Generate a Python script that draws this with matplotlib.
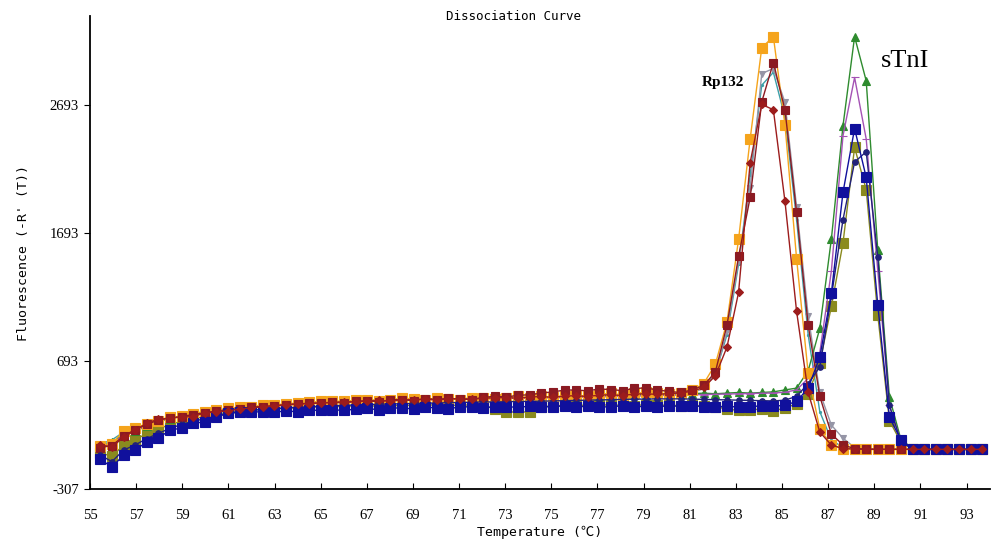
import matplotlib

matplotlib.use("Agg")

import matplotlib.pyplot as plt
import numpy as np

plt.rcParams["axes.unicode_minus"] = False

# temperature readings (one per melt step)
TEMPERATURES = np.linspace(55.45, 93.68, 77)

Y_TICKS = [-307, 693, 1693, 2693]
X_TICKS = list(range(55, 94, 2))

# --- Rp132 wells -------------------------------------------------------
RP_ORANGE = [
    30, 50, 150, 175, 205, 225, 255, 265, 285, 300,
    310, 325, 335, 340, 350, 355, 360, 370, 375, 380,
    385, 380, 390, 395, 385, 395, 405, 400, 395, 405,
    400, 395, 410, 405, 400, 410, 420, 405, 420, 415,
    425, 430, 420, 435, 445, 430, 445, 450, 445, 440,
    445, 468, 520, 670, 1000, 1645, 2431, 3143, 3229, 2541,
    1496, 600, 167, 40, 12, 8, 5, 5, 5, 5,
    5, 5, 5, 5, 5, 5, 5,
]
RP_MAROON = [
    20, 35, 110, 160, 200, 235, 250, 262, 278, 292,
    305, 315, 322, 335, 340, 348, 355, 362, 365, 368,
    372, 370, 382, 385, 378, 392, 395, 385, 402, 395,
    405, 398, 395, 412, 420, 415, 428, 432, 445, 455,
    468, 470, 462, 478, 472, 465, 482, 485, 470, 458,
    450, 470, 505, 610, 975, 1512, 1973, 2720, 3027, 2658,
    1856, 975, 420, 125, 40, 12, 8, 6, 6, 6,
    6, 6, 6, 6, 6, 6, 6,
]
RP_RED = [
    40, 25, 100, 155, 210, 242, 250, 258, 262, 290,
    300, 305, 320, 330, 338, 345, 352, 360, 362, 370,
    372, 378, 376, 385, 388, 382, 392, 395, 398, 392,
    400, 402, 398, 405, 408, 410, 405, 415, 418, 412,
    422, 425, 418, 430, 432, 426, 438, 440, 435, 442,
    445, 460, 490, 580, 804, 1231, 2246, 2700, 2658, 1942,
    1084, 450, 141, 39, 12, 8, 6, 6, 6, 6,
    6, 6, 6, 6, 6, 6, 6,
]
RP_GRAY = [
    35, 55, 120, 165, 200, 230, 248, 262, 280, 295,
    305, 318, 325, 335, 342, 350, 356, 362, 366, 372,
    376, 378, 382, 386, 382, 390, 394, 392, 398, 400,
    398, 400, 404, 402, 406, 408, 410, 408, 414, 416,
    418, 420, 422, 426, 428, 426, 432, 436, 434, 438,
    440, 450, 480, 590, 930, 1480, 2050, 2941, 2980, 2715,
    1900, 1050, 450, 195, 93, 20, 8, 6, 6, 6,
    6, 6, 6, 6, 6, 6, 6,
]
RP_TEAL = [
    45, 80, 140, 170, 205, 232, 250, 265, 280, 296,
    306, 316, 326, 334, 342, 348, 354, 360, 366, 370,
    374, 378, 380, 384, 386, 388, 392, 394, 396, 398,
    400, 402, 402, 404, 406, 408, 408, 410, 412, 414,
    416, 418, 420, 422, 424, 426, 428, 430, 432, 434,
    436, 455, 485, 600, 900, 1450, 2150, 2850, 2950, 2600,
    1800, 900, 300, 80, 20, 8, 6, 6, 6, 6,
    6, 6, 6, 6, 6, 6, 6,
]

# --- sTnI wells --------------------------------------------------------
ST_GREEN = [
    30, 60, 120, 150, 185, 225, 245, 268, 285, 300,
    312, 320, 330, 338, 344, 352, 356, 362, 368, 372,
    376, 380, 378, 386, 390, 385, 392, 396, 394, 400,
    398, 402, 400, 405, 408, 402, 410, 412, 408, 415,
    418, 420, 424, 426, 428, 430, 432, 434, 436, 438,
    440, 440, 445, 440, 445, 450, 445, 450, 455, 470,
    484, 620, 950, 1650, 2533, 3229, 2884, 1559, 413, 80,
    15, 8, 6, 6, 6, 6, 6,
]
ST_PURPLE = [
    25, 50, 115, 150, 190, 225, 248, 262, 280, 296,
    308, 318, 326, 334, 340, 348, 352, 358, 364, 368,
    372, 374, 378, 380, 384, 386, 388, 390, 392, 394,
    396, 398, 400, 400, 402, 404, 404, 406, 408, 408,
    410, 412, 414, 416, 418, 420, 422, 424, 426, 428,
    430, 432, 434, 436, 438, 440, 442, 444, 446, 452,
    470, 560, 760, 1400, 2455, 2910, 2430, 1400, 350, 60,
    12, 6, 6, 6, 6, 6, 6,
]
ST_OLIVE = [
    -20, -50, 40, 80, 130, 165, 200, 225, 245, 262,
    280, 295, 305, 312, 318, 322, 328, 330, 335, 338,
    340, 342, 345, 340, 348, 350, 345, 352, 355, 350,
    352, 348, 355, 350, 320, 300, 295, 300, 340, 345,
    350, 348, 352, 355, 350, 352, 348, 355, 352, 350,
    348, 350, 345, 340, 320, 310, 315, 320, 305, 330,
    360, 440, 680, 1123, 1618, 2364, 2034, 1053, 230, 60,
    10, 5, 5, 5, 5, 5, 5,
]
ST_NAVY = [
    -40, -90, 0, 40, 90, 130, 170, 200, 225, 245,
    265, 285, 300, 310, 318, 322, 330, 334, 338, 342,
    346, 350, 352, 355, 358, 360, 362, 364, 366, 368,
    370, 372, 374, 376, 376, 378, 380, 380, 382, 384,
    386, 388, 390, 392, 394, 396, 398, 398, 400, 400,
    400, 398, 396, 394, 392, 390, 388, 386, 384, 390,
    420, 520, 650, 1200, 1800, 2250, 2330, 1505, 350, 60,
    12, 5, 5, 5, 5, 5, 5,
]
ST_BLUE = [
    -73, -132, -39, 2, 62, 94, 156, 172, 211, 219,
    258, 289, 295, 297, 300, 297, 305, 300, 310, 312,
    315, 310, 320, 325, 315, 330, 328, 322, 335, 330,
    320, 340, 336, 330, 340, 338, 335, 342, 336, 340,
    345, 338, 342, 335, 340, 345, 338, 342, 340, 345,
    342, 345, 340, 338, 342, 336, 340, 345, 342, 350,
    380, 484, 726, 1228, 2013, 2511, 2130, 1131, 257, 78,
    12, 5, 5, 5, 5, 5, 5,
]

# drawing order: first drawn ends up underneath
SERIES = [
    (RP_TEAL, {"color": "#3c9fa8", "marker": ".", "markersize": 3}),
    (RP_GRAY, {"color": "#9595a6", "marker": "v", "markersize": 5}),
    (ST_OLIVE, {"color": "#8a8a1e", "marker": "s", "markersize": 7}),
    (ST_GREEN, {"color": "#2e8b2e", "marker": "^", "markersize": 5.5}),
    (ST_PURPLE, {"color": "#a452b4", "marker": "_", "markersize": 6}),
    (RP_ORANGE, {"color": "#f5a41c", "marker": "s", "markersize": 7}),
    (RP_MAROON, {"color": "#8b1a22", "marker": "s", "markersize": 5.5}),
    (ST_NAVY, {"color": "#22227a", "marker": "o", "markersize": 4}),
    (ST_BLUE, {"color": "#10109c", "marker": "s", "markersize": 7}),
    (RP_RED, {"color": "#9c1c1c", "marker": "D", "markersize": 4}),
]

MONO = ["DejaVu Sans Mono", "Noto Sans CJK SC"]
TICK_FONT = "Liberation Serif"

fig = plt.figure(figsize=(9.93, 5.53), dpi=100)
ax = fig.add_axes([0.0906, 0.115, 0.906, 0.856])

for values, style in SERIES:
    ax.plot(
        TEMPERATURES,
        values,
        linewidth=1.0,
        markeredgewidth=0.8,
        **style,
    )

ax.set_xlim(55, 94.0)
ax.set_ylim(-307, 3390)
ax.set_xticks(X_TICKS)
ax.set_yticks(Y_TICKS)
ax.tick_params(axis="x", direction="in", length=4, labelsize=10.5, pad=14)
ax.tick_params(axis="y", direction="out", length=4, labelsize=10.5, pad=4)
for label in ax.get_xticklabels() + ax.get_yticklabels():
    label.set_fontfamily(TICK_FONT)

for side in ("top", "right"):
    ax.spines[side].set_visible(False)
for side in ("left", "bottom"):
    ax.spines[side].set_linewidth(1.3)

ax.set_xlabel("Temperature (\u2103)", fontfamily=MONO, fontsize=9.5, labelpad=3)
ax.set_ylabel("Fluorescence (-R' (T))", fontfamily=MONO, fontsize=9.5, labelpad=14)
fig.text(513 / 993, 1 - 17 / 553, "Dissociation Curve", fontfamily=MONO,
         fontsize=9, ha="center", va="center")

ax.text(82.45, 2868, "Rp132", fontfamily="Liberation Serif", fontweight="bold",
        fontsize=11, ha="center", va="center")
ax.text(90.35, 3040, "sTnI", fontfamily="Liberation Serif", fontsize=19,
        ha="center", va="center")

fig.savefig("out.png", dpi=100)
